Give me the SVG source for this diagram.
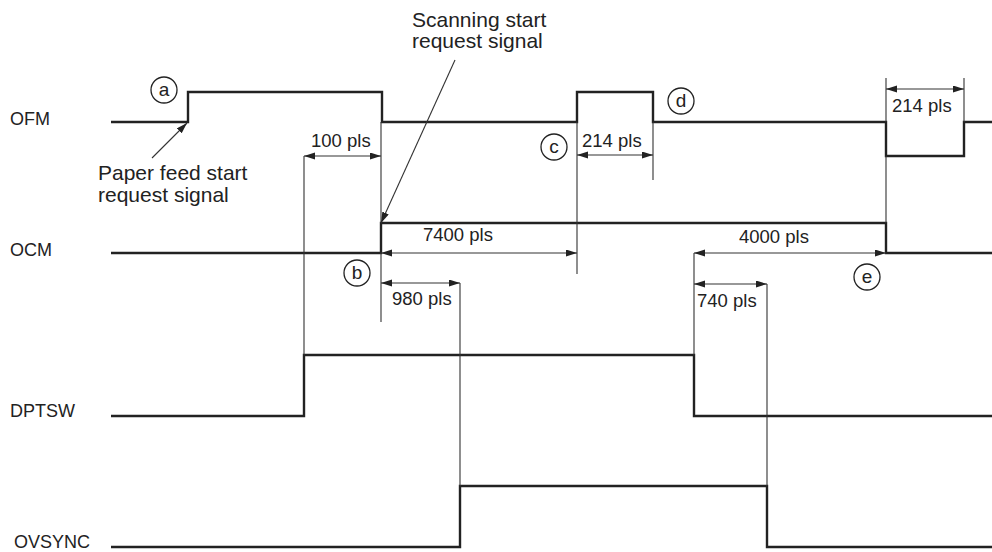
<svg xmlns="http://www.w3.org/2000/svg" width="992" height="552" viewBox="0 0 992 552">
<style>
text{font-family:"Liberation Sans",Arial,Helvetica,sans-serif;fill:#222}
.lbl{font-size:18px}
.ann{font-size:21px}
.dim{font-size:18.5px}
.let{font-size:19px;text-anchor:middle}
.sig{fill:none;stroke:#222;stroke-width:2.4;stroke-linejoin:miter}
.ext{fill:none;stroke:#333;stroke-width:1.1}
.arr{fill:none;stroke:#333;stroke-width:1.1;marker-start:url(#ah);marker-end:url(#ah)}
.lead{fill:none;stroke:#333;stroke-width:1.1;marker-end:url(#ah)}
.circ{fill:#fff;stroke:#222;stroke-width:1.3}
</style>
<defs>
<marker id="ah" markerUnits="userSpaceOnUse" markerWidth="12" markerHeight="8" refX="11" refY="3.5" orient="auto-start-reverse">
<path d="M0,0 L11,3.5 L0,7 z" fill="#222"/>
</marker>
</defs>
<rect width="992" height="552" fill="#fff"/>

<g id="signals">
<g id="OFM"><text class="lbl" x="10" y="125">OFM</text><path class="sig" d="M111,122 H188 V92 H382 V122 H577 V92 H653 V122 H886 V156 H964 V122 H992"/></g>
<g id="OCM"><text class="lbl" x="10" y="256">OCM</text><path class="sig" d="M111,253 H381 V223 H886 V253 H992"/></g>
<g id="DPTSW"><text class="lbl" x="10" y="417">DPTSW</text><path class="sig" d="M111,416 H304 V355 H694 V416 H992"/></g>
<g id="OVSYNC"><text class="lbl" x="14" y="548">OVSYNC</text><path class="sig" d="M111,547 H460 V486 H767 V547 H992"/></g>
</g>

<g id="connectors">
<path class="ext" d="M304,156 V355 M381,122 V223 M381,253 V322 M577,122 V274 M653,122 V180 M460,283 V486 M694,253 V355 M767,284 V486 M886,78 V122 M886,156 V223 M964,78 V122"/>
<path class="arr" d="M304,156 H381"/>
<path class="arr" d="M381,253 H577"/>
<path class="arr" d="M381,283 H460"/>
<path class="arr" d="M577,155 H653"/>
<path class="arr" d="M886,89 H964"/>
<path class="arr" d="M694,253 H886"/>
<path class="arr" d="M694,284 H767"/>
<path class="lead" d="M152,158 L187,123"/>
<path class="lead" d="M455,60 L381,223"/>
</g>

<g id="dim-labels">
<text class="dim" x="311" y="147">100 pls</text>
<text class="dim" x="423" y="241">7400 pls</text>
<text class="dim" x="392" y="305">980 pls</text>
<text class="dim" x="582" y="147">214 pls</text>
<text class="dim" x="892" y="112">214 pls</text>
<text class="dim" x="739" y="243">4000 pls</text>
<text class="dim" x="697" y="307">740 pls</text>
</g>

<g id="annotations">
<text class="ann" x="98" y="180">Paper feed start</text>
<text class="ann" x="98" y="202">request signal</text>
<text class="ann" x="412" y="27">Scanning start</text>
<text class="ann" x="412" y="48">request signal</text>
</g>

<g id="markers">
<g id="mark-a"><circle class="circ" cx="164" cy="90" r="13"/><text class="let" x="164" y="96">a</text></g>
<g id="mark-b"><circle class="circ" cx="357" cy="273" r="13"/><text class="let" x="357" y="279">b</text></g>
<g id="mark-c"><circle class="circ" cx="554" cy="147" r="13"/><text class="let" x="554" y="153">c</text></g>
<g id="mark-d"><circle class="circ" cx="681" cy="101" r="13"/><text class="let" x="681" y="107">d</text></g>
<g id="mark-e"><circle class="circ" cx="867" cy="277" r="13"/><text class="let" x="867" y="283">e</text></g>
</g>
</svg>
